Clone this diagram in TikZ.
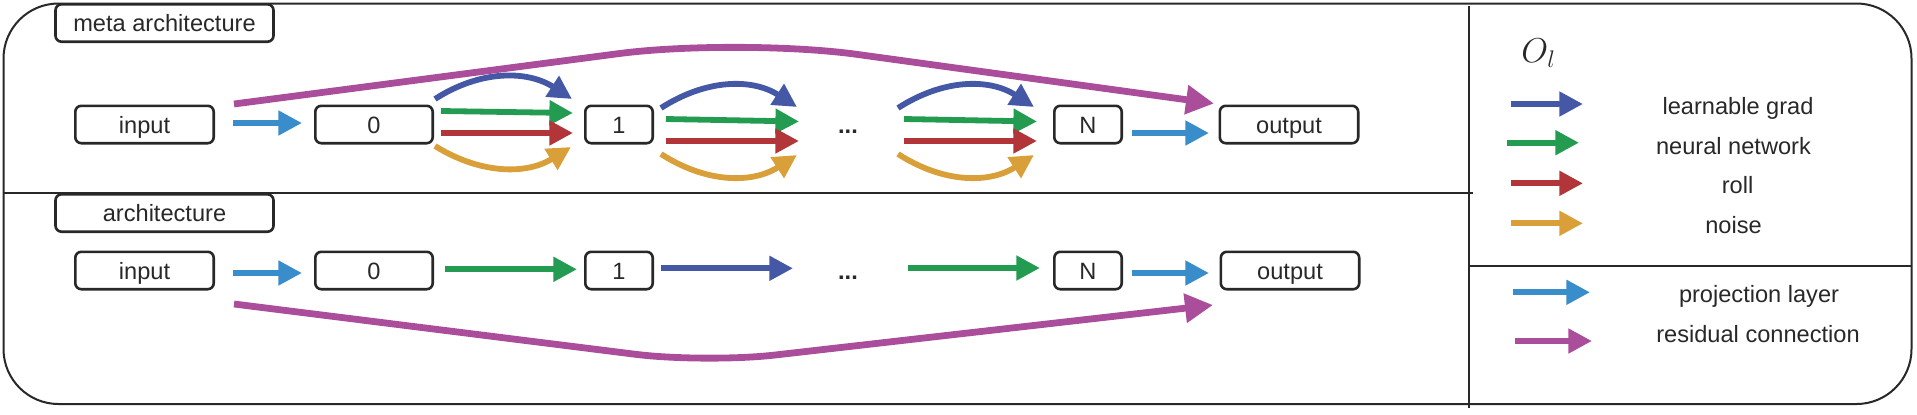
\documentclass[tikz,border=0pt]{standalone}
\usepackage{fontspec}
\setmainfont{Liberation Sans}
\usetikzlibrary{arrows.meta}
\definecolor{cLG}{RGB}{69,88,165}
\definecolor{cNN}{RGB}{35,155,80}
\definecolor{cRO}{RGB}{178,53,58}
\definecolor{cNO}{RGB}{217,160,58}
\definecolor{cPJ}{RGB}{58,141,203}
\definecolor{cRS}{RGB}{170,78,156}
\definecolor{cFR}{RGB}{40,40,40}
\begin{document}
\begin{tikzpicture}[x=0.5pt, y=-0.5pt, line join=round,
  txt/.style={font=\fontsize{11.8}{14}\selectfont, text=cFR},
  box/.style={txt, draw=cFR, line width=1.3pt, rounded corners=3pt, inner sep=0pt,
    minimum height=18.7pt, text height=10pt, text depth=1.5pt},
  dots/.style={txt, inner sep=0pt, text height=10pt, text depth=1.5pt},
  arr/.style={line width=2.9pt, -{Triangle[length=11.8pt,width=11.8pt]}},
  res/.style={line width=3.4pt, draw=cRS, -{Triangle[length=14pt,width=14pt]}},
  frame/.style={draw=cFR, line width=1pt},
  big/.style={font=\fontsize{17}{20}\selectfont, text=cFR, inner sep=0pt}
]
\useasboundingbox (0,0) rectangle (1917,414);

% frame and dividers
\draw[frame, rounded corners=27.5pt] (3.5,3.5) rectangle (1911.5,404);
\draw[frame, line width=0.9pt] (1469,6) -- (1469,408);
\draw[frame] (3.5,193) -- (1473,193);
\draw[frame] (1470,266) -- (1911.5,266);

% section labels
\node[box, fill=white, minimum width=109pt] (labA) at (164.5,23) {meta architecture};
\node[box, fill=white, minimum width=109pt] (labB) at (164.5,213) {architecture};

% meta row
\node[box, minimum width=69.2pt] (inA) at (144.5,124.5) {input};
\node[box, minimum width=58.7pt] (zA) at (374,124.5) {0};
\node[box, minimum width=33.7pt] (oA) at (619,124.5) {1};
\node[dots] (dA) at (848,124.5) {\textbf{...}};
\node[box, minimum width=33.7pt] (nA) at (1088,124.5) {N};
\node[box, minimum width=69.2pt] (outA) at (1289,124.5) {output};

\draw[arr, cPJ] ([shift={(88.5,-1.5)}]inA.center) -- ([shift={(-72,-1.5)}]zA.center);
% group A
\draw[arr, cLG] ([shift={(61,-25.5)}]zA.center) .. controls +(45,-29) and +(-45,-29) .. ([shift={(-47,-25.5)}]oA.center);
\draw[arr, cNN] ([shift={(67,-13.5)}]zA.center) -- ([shift={(-46,-11.5)}]oA.center);
\draw[arr, cRO] ([shift={(67,8.5)}]zA.center) -- ([shift={(-46,8.5)}]oA.center);
\draw[arr, cNO] ([shift={(61,21.5)}]zA.center) .. controls +(45,28) and +(-45,28) .. ([shift={(-48,22.5)}]oA.center);
% group B
\draw[arr, cLG] ([shift={(42,-16.5)}]oA.center) .. controls +(45,-29) and +(-45,-29) .. ([shift={(-51,-17.5)}]dA.center);
\draw[arr, cNN] ([shift={(47,-5.5)}]oA.center) -- ([shift={(-49,-3)}]dA.center);
\draw[arr, cRO] ([shift={(47,16.5)}]oA.center) -- ([shift={(-49,16.5)}]dA.center);
\draw[arr, cNO] ([shift={(42,29.5)}]oA.center) .. controls +(45,29) and +(-45,29) .. ([shift={(-51,30.5)}]dA.center);
% group C
\draw[arr, cLG] ([shift={(50,-16.5)}]dA.center) .. controls +(45,-29) and +(-45,-29) .. ([shift={(-54,-17.5)}]nA.center);
\draw[arr, cNN] ([shift={(56,-5.5)}]dA.center) -- ([shift={(-51,-3)}]nA.center);
\draw[arr, cRO] ([shift={(56,16.5)}]dA.center) -- ([shift={(-51,16.5)}]nA.center);
\draw[arr, cNO] ([shift={(50,29.5)}]dA.center) .. controls +(45,29) and +(-45,29) .. ([shift={(-54,30.5)}]nA.center);

\draw[arr, cPJ] ([shift={(44,8.5)}]nA.center) -- ([shift={(-80,8.5)}]outA.center);
\draw[res, rounded corners=60pt] ([shift={(89.5,-20.5)}]inA.center) -- (738,38) -- ([shift={(-75,-21)}]outA.center);

% architecture row
\node[box, minimum width=69.2pt] (inB) at (144.5,270.5) {input};
\node[box, minimum width=58.7pt] (zB) at (374,270.5) {0};
\node[box, minimum width=33.7pt] (oB) at (619,270.5) {1};
\node[dots] (dB) at (848,270.5) {\textbf{...}};
\node[box, minimum width=33.7pt] (nB) at (1088,270.5) {N};
\node[box, minimum width=69.2pt] (outB) at (1290,270.5) {output};

\draw[arr, cPJ] ([shift={(88.5,2.5)}]inB.center) -- ([shift={(-72,2.5)}]zB.center);
\draw[arr, cNN] ([shift={(71,-1.2)}]zB.center) -- ([shift={(-42,-1.2)}]oB.center);
\draw[arr, cLG] ([shift={(42,-2.2)}]oB.center) -- ([shift={(-55,-2.2)}]dB.center);
\draw[arr, cNN] ([shift={(60,-2.5)}]dB.center) -- ([shift={(-48,-2.5)}]nB.center);
\draw[arr, cPJ] ([shift={(44,2.5)}]nB.center) -- ([shift={(-81,2.5)}]outB.center);
\draw[res, rounded corners=35pt] ([shift={(89.5,33.5)}]inB.center) -- (705,363) -- ([shift={(-77,34.5)}]outB.center);

% legend
\node[big, anchor=base west] (ol) at (1521,62) {$O_l$};
\node[txt, anchor=base] (l1) at (1738,114.3) {learnable grad};
\node[txt, anchor=base] (l2) at (1733.5,154) {neural network};
\node[txt, anchor=base] (l3) at (1737.5,193.3) {roll};
\node[txt, anchor=base] (l4) at (1733.5,233.3) {noise};
\node[txt, anchor=base] (l5) at (1759,302.7) {projection layer};
\node[txt, anchor=base] (l6) at (1758,342.7) {residual connection};

\draw[arr, cLG] (1511,104) -- (1583,104);
\draw[arr, cNN] (1507,142.7) -- (1579,142.7);
\draw[arr, cRO] (1511,183.3) -- (1583,183.3);
\draw[arr, cNO] (1511,223.3) -- (1583,223.3);
\draw[arr, cPJ] (1513,292.3) -- (1590,292.3);
\draw[arr, cRS] (1515,341) -- (1592,341);
\end{tikzpicture}
\end{document}
